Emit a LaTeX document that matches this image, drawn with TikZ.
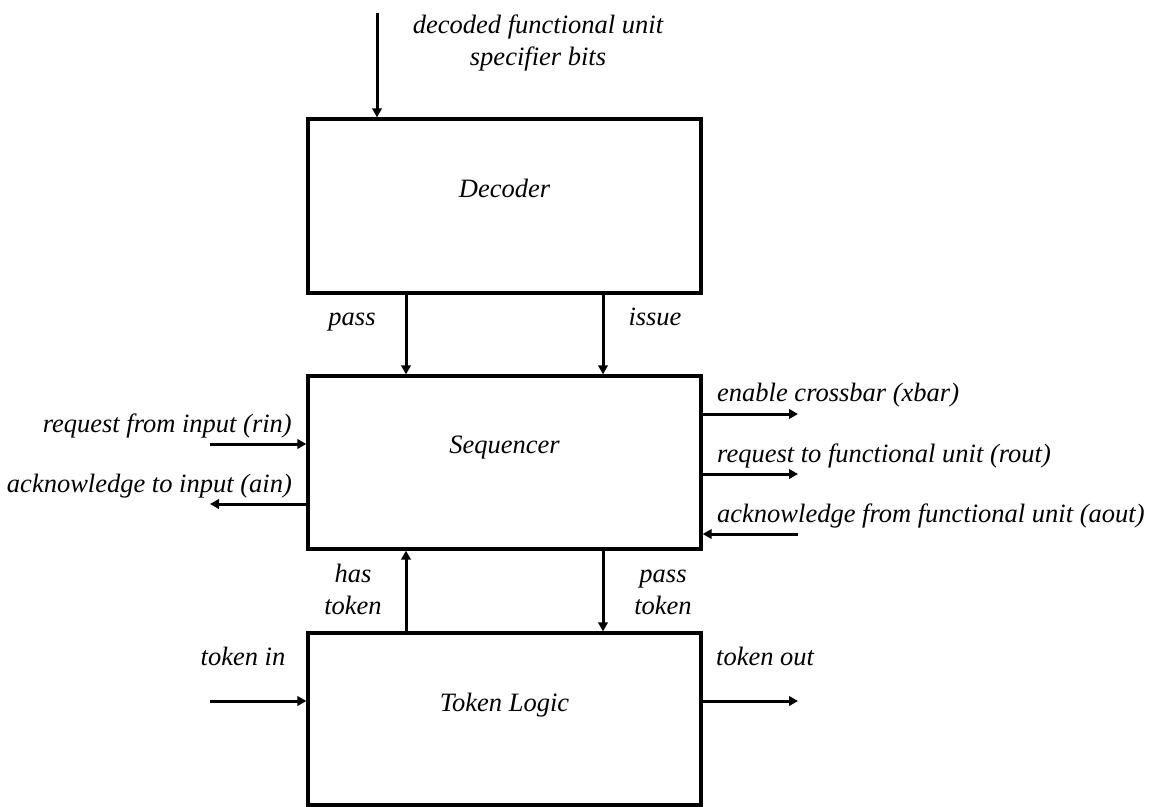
\documentclass[tikz,border=0pt]{standalone}
\usepackage{fontspec}
\setmainfont{Liberation Serif}
\usetikzlibrary{arrows.meta}

\tikzset{
    blk/.style={draw, line width=3.3pt, minimum width=393pt, inner sep=0pt},
    lbl/.style={inner sep=0pt, font=\itshape\fontsize{26.5}{32}\selectfont},
    arr/.style={line width=3pt, -{Triangle[length=9pt,width=9.5pt]}}
}

\begin{document}
\begin{tikzpicture}[x=1pt, y=-1pt]
    \useasboundingbox (0,0) rectangle (1153,806);

    % the three blocks
    \node[blk, minimum height=174pt] (dec) at (504.5,206) {};
    \node[blk, minimum height=173pt] (seq) at (504.5,462.5) {};
    \node[blk, minimum height=172pt] (tok) at (504.5,719) {};

    \node[lbl, anchor=base] (dectxt) at ([yshift=9pt]dec.center) {Decoder};
    \node[lbl, anchor=base] (seqtxt) at ([yshift=9pt]seq.center) {Sequencer};
    \node[lbl, anchor=base] (toktxt) at ([yshift=8pt]tok.center) {Token Logic};

    % free ends
    \coordinate (spec) at (377,13);
    \coordinate (rin)  at (210,444);
    \coordinate (ain)  at (210,504);
    \coordinate (xbar) at (798,414);
    \coordinate (rout) at (798,474);
    \coordinate (aout) at (798,534);
    \coordinate (tin)  at (210,701);
    \coordinate (tout) at (798,701);

    % connectors
    \draw[arr] (spec) -- (spec |- dec.north);
    \draw[arr] ([xshift=-98.5pt]dec.south) -- ([xshift=-98.5pt]seq.north);
    \draw[arr] ([xshift=98.5pt]dec.south) -- ([xshift=98.5pt]seq.north);
    \draw[arr] ([xshift=-98.5pt]tok.north) -- ([xshift=-98.5pt]seq.south);
    \draw[arr] ([xshift=98.5pt]seq.south) -- ([xshift=98.5pt]tok.north);
    \draw[arr] (rin) -- (rin -| seq.west);
    \draw[arr] (ain -| seq.west) -- (ain);
    \draw[arr] (xbar -| seq.east) -- (xbar);
    \draw[arr] (rout -| seq.east) -- (rout);
    \draw[arr] (aout) -- (aout -| seq.east);
    \draw[arr] (tin) -- (tin -| tok.west);
    \draw[arr] (tout -| tok.east) -- (tout);

    % signal names
    \node[lbl, align=center, anchor=base] (spectxt) at (538,65) {decoded functional unit\\specifier bits};
    \node[lbl, anchor=base] (passtxt) at (352,325) {pass};
    \node[lbl, anchor=base] (issuetxt) at (655,325) {issue};
    \node[lbl, anchor=base east] (rintxt) at (292,432) {request from input (rin)};
    \node[lbl, anchor=base east] (aintxt) at (292,492) {acknowledge to input (ain)};
    \node[lbl, anchor=base west] (xbartxt) at (717,401) {enable crossbar (xbar)};
    \node[lbl, anchor=base west] (routtxt) at (717,462) {request to functional unit (rout)};
    \node[lbl, anchor=base west] (aouttxt) at (717,522) {acknowledge from functional unit (aout)};
    \node[lbl, align=center, anchor=base] (hastxt) at (353,614) {has\\token};
    \node[lbl, align=center, anchor=base] (ptoktxt) at (663,614) {pass\\token};
    \node[lbl, anchor=base] (tintxt) at (243,665) {token in};
    \node[lbl, anchor=base west] (touttxt) at (716,665) {token out};
\end{tikzpicture}
\end{document}
